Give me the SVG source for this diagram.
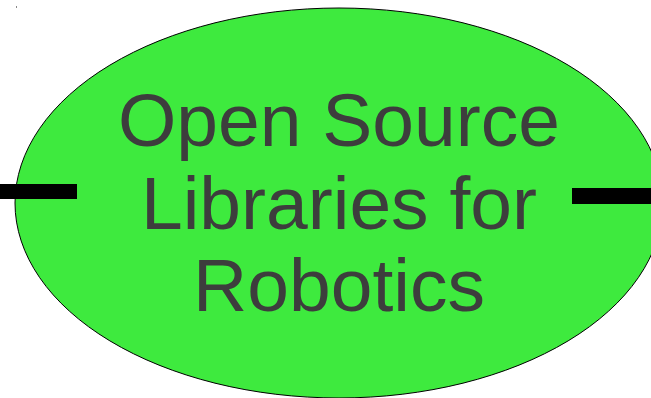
<svg xmlns="http://www.w3.org/2000/svg" width="651" height="398" viewBox="0 0 651 398">
<style>
.lbl{font-family:"Liberation Sans",Arial,sans-serif;font-size:75px;fill:#3d3d3d;text-anchor:middle}
.bar{fill:#000}
</style>
<rect x="0" y="0" width="651" height="398" fill="#fff"/>
<rect x="16" y="6" width="1" height="2" fill="#888"/>
<g id="node-main">
<ellipse cx="339" cy="203" rx="324" ry="195" fill="#3eea3e" stroke="#000" stroke-width="1"/>
<text class="lbl" x="339" y="146">Open Source</text>
<text class="lbl" x="339" y="229">Libraries for</text>
<text class="lbl" x="339" y="311">Robotics</text>
</g>
<g id="connectors">
<rect class="bar" x="0" y="184" width="77" height="15"/>
<rect class="bar" x="572" y="188" width="79" height="16"/>
</g>
</svg>
